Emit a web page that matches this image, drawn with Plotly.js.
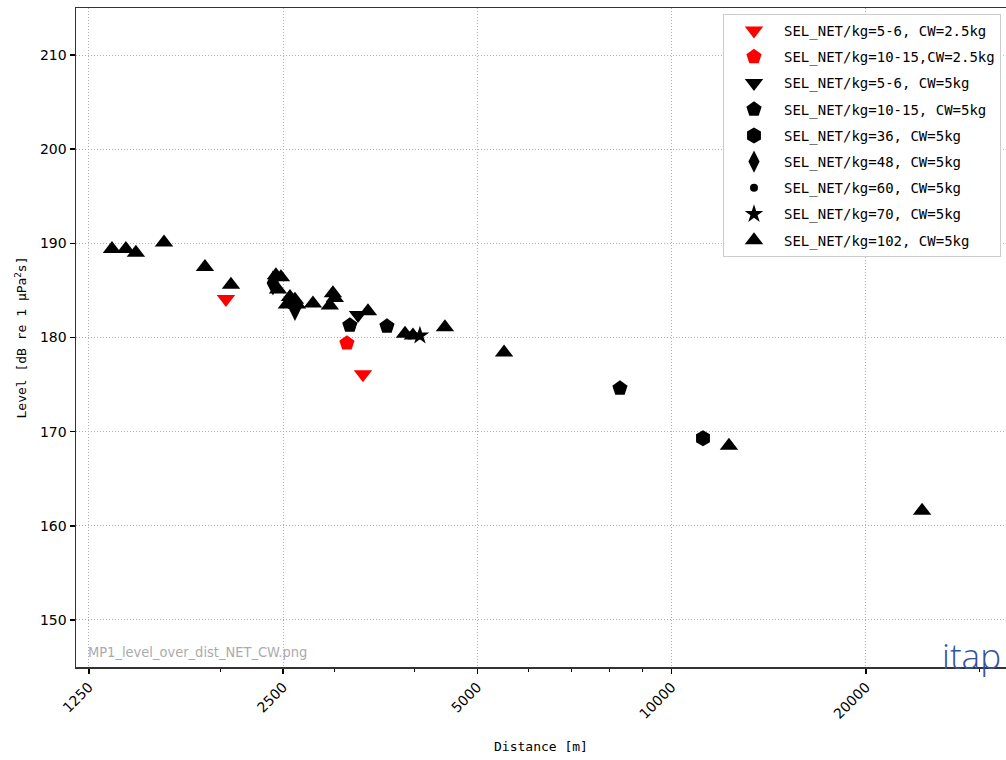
<!DOCTYPE html>
<html>
<head>
<meta charset="utf-8">
<script src="https://cdn.plot.ly/plotly-3.0.1.min.js"></script>
<style>
html,body{margin:0;padding:0;overflow:hidden;background:#fff;}
#chart{width:1006px;height:760px;}
</style>
</head>
<body>
<div id="chart"></div>
<script>
// Data (Distance in m, Level in dB)
const names = [
  "SEL_NET/kg=5-6, CW=2.5kg",
  "SEL_NET/kg=10-15,CW=2.5kg",
  "SEL_NET/kg=5-6, CW=5kg",
  "SEL_NET/kg=10-15, CW=5kg",
  "SEL_NET/kg=36, CW=5kg",
  "SEL_NET/kg=48, CW=5kg",
  "SEL_NET/kg=60, CW=5kg",
  "SEL_NET/kg=70, CW=5kg",
  "SEL_NET/kg=102, CW=5kg"
];
const dist_5_6_cw25 = [2038, 3323];
const lvl_5_6_cw25  = [184.1, 176.1];
const dist_10_15_cw25 = [3138];
const lvl_10_15_cw25  = [179.4];
const dist_5_6_cw5 = [3265];
const lvl_5_6_cw5  = [182.4];
const dist_10_15_cw5 = [3171, 3620, 8313];
const lvl_10_15_cw5  = [181.3, 181.2, 174.6];
const dist_36 = [11180];
const lvl_36  = [169.3];
const dist_48 = [2410, 2607];
const lvl_48  = [185.8, 183.1];
const dist_60 = [3930];
const lvl_60  = [180.2];
const dist_70 = [4072];
const lvl_70  = [180.2];
const dist_102 = [1357, 1426, 1478, 1634, 1891, 2075, 2436, 2480, 2454, 2561, 2607, 2533, 2626, 2780, 2985, 3006, 2953, 3383, 3861, 3972, 4452, 5498, 12265, 24430];
const lvl_102  = [189.4, 189.4, 189.0, 190.1, 187.5, 185.6, 186.6, 186.4, 185.1, 184.3, 184.0, 183.5, 183.5, 183.6, 184.7, 184.2, 183.4, 182.8, 180.4, 180.2, 181.1, 178.4, 168.5, 161.6];

const xTickVals = [1250, 2500, 5000, 10000, 20000];
const xTickText = ["1250", "2500", "5000", "10000", "20000"];
const xMinorVals = [2000, 3000, 4000, 6000, 7000, 8000, 9000, 30000];
const yTickVals = [150, 160, 170, 180, 190, 200, 210];

const seriesX = [dist_5_6_cw25, dist_10_15_cw25, dist_5_6_cw5, dist_10_15_cw5, dist_36, dist_48, dist_60, dist_70, dist_102];
const seriesY = [lvl_5_6_cw25, lvl_10_15_cw25, lvl_5_6_cw5, lvl_10_15_cw5, lvl_36, lvl_48, lvl_60, lvl_70, lvl_102];
const symbols = ["triangle-down", "pentagon", "triangle-down", "pentagon", "hexagon", "diamond-tall", "circle", "star", "triangle-up"];
const colors = ["#ff0000", "#ff0000", "#000000", "#000000", "#000000", "#000000", "#000000", "#000000", "#000000"];
const sizes = [16, 16, 16, 16, 16, 18, 8, 14, 16];

const traces = names.map((n, i) => ({
  type: "scatter",
  mode: "markers",
  name: n,
  legendgroup: "g" + i,
  x: seriesX[i],
  y: seriesY[i],
  marker: {symbol: symbols[i], color: colors[i], size: sizes[i], line: {width: 0}}
}));

const tickFont = {family: "DejaVu Sans, sans-serif", size: 14, color: "#000"};
const titleFont = {family: "DejaVu Sans Mono, monospace", size: 13, color: "#000"};
const gridDash = "1px,2px";

const layout = {
  width: 1006,
  height: 760,
  margin: {l: 76, r: 0, t: 8, b: 93},
  paper_bgcolor: "#fff",
  plot_bgcolor: "#fff",
  showlegend: true,
  xaxis: {
    type: "log",
    range: [Math.log10(1193.6), Math.log10(32960)],
    tickmode: "array",
    tickvals: xTickVals,
    ticktext: xTickText,
    tickangle: -45,
    tickfont: tickFont,
    ticks: "outside",
    ticklen: 5,
    tickwidth: 1.5,
    tickcolor: "#000",
    showline: true,
    linecolor: "#333",
    linewidth: 1.5,
    mirror: true,
    showgrid: true,
    gridcolor: "#b0b0b0",
    griddash: gridDash,
    gridwidth: 1,
    zeroline: false,
    minor: {tickvals: xMinorVals, ticks: "outside", ticklen: 3, tickwidth: 1, tickcolor: "#000", showgrid: false},
    title: {text: "Distance [m]", font: titleFont, standoff: 21}
  },
  yaxis: {
    range: [145, 215],
    tickmode: "array",
    tickvals: yTickVals,
    tickfont: tickFont,
    ticks: "outside",
    ticklen: 5,
    tickwidth: 1.5,
    tickcolor: "#000",
    showline: true,
    linecolor: "#333",
    linewidth: 1.5,
    mirror: false,
    showgrid: true,
    gridcolor: "#b0b0b0",
    griddash: gridDash,
    gridwidth: 1,
    zeroline: false,
    title: {text: "Level [dB re 1 μPa<sup>2</sup>s]", font: titleFont, standoff: 10}
  },
  legend: {
    x: (723 - 76) / (1006 - 76),
    y: 1 - (14 - 8) / (667 - 8),
    xanchor: "left",
    yanchor: "top",
    bgcolor: "#ffffff",
    bordercolor: "#cccccc",
    borderwidth: 1,
    font: {family: "DejaVu Sans Mono, monospace", size: 14, color: "#000"},
    itemwidth: 50,
    tracegroupgap: 5,
    traceorder: "grouped"
  },
  annotations: [
    {text: "MP1_level_over_dist_NET_CW.png", xref: "paper", yref: "paper",
     x: (86 - 76) / 930, y: (667 - 652) / 659, xanchor: "left", yanchor: "middle",
     showarrow: false, font: {family: "DejaVu Sans Condensed, DejaVu Sans, sans-serif", size: 14.5, color: "#ababab"}},
    {text: "itap", xref: "paper", yref: "paper",
     x: (940 - 76) / 930, y: (667 - 655) / 659, xanchor: "left", yanchor: "middle",
     showarrow: false, font: {family: "Open Sans, sans-serif", size: 35, weight: 300, color: "#3352a0"}}
  ]
};

Plotly.newPlot("chart", traces, layout, {staticPlot: true, displayModeBar: false});
</script>
</body>
</html>
